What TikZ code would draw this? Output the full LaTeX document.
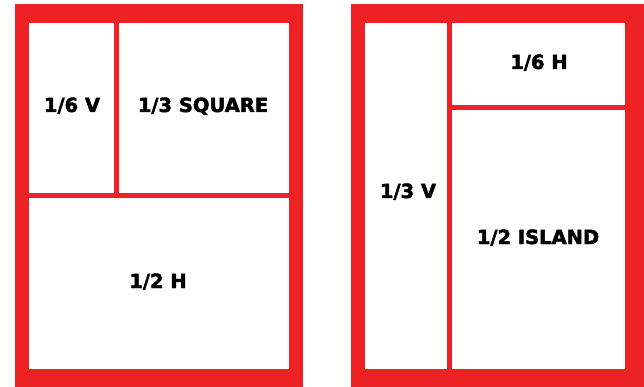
\documentclass[tikz,border=0pt]{standalone}
\usepackage{fontspec}
\setmainfont{DejaVu Sans}
\newfontfamily\heavyfont[FakeBold=2.2]{DejaVu Sans Bold}
\definecolor{panelred}{RGB}{237,34,36}
\begin{document}
\begin{tikzpicture}[x=1pt,y=-1pt,
  frame/.style={fill=panelred},
  cell/.style={fill=white},
  lbl/.style={font=\heavyfont\fontsize{19.5}{20}\selectfont, inner sep=0pt, anchor=base}]
\useasboundingbox (0,0) rectangle (644,387);
% left panel
\fill[frame] (15,4) rectangle (303,387);
\fill[cell] (29,23) rectangle (114,193);
\fill[cell] (119,23) rectangle (289,193);
\fill[cell] (29,198) rectangle (289,369);
% right panel
\fill[frame] (351,4) rectangle (644,387);
\fill[cell] (365,23) rectangle (447,369);
\fill[cell] (452,23) rectangle (625,105);
\fill[cell] (452,110) rectangle (625,369);
% labels
\node[lbl] (a) at (72,112) {1/6 V};
\node[lbl] (b) at (203,112) {1/3 SQUARE};
\node[lbl] (c) at (158,288) {1/2 H};
\node[lbl] (d) at (408,198) {1/3 V};
\node[lbl] (e) at (539,69) {1/6 H};
\node[lbl] (f) at (538,244) {1/2 ISLAND};
\end{tikzpicture}
\end{document}
